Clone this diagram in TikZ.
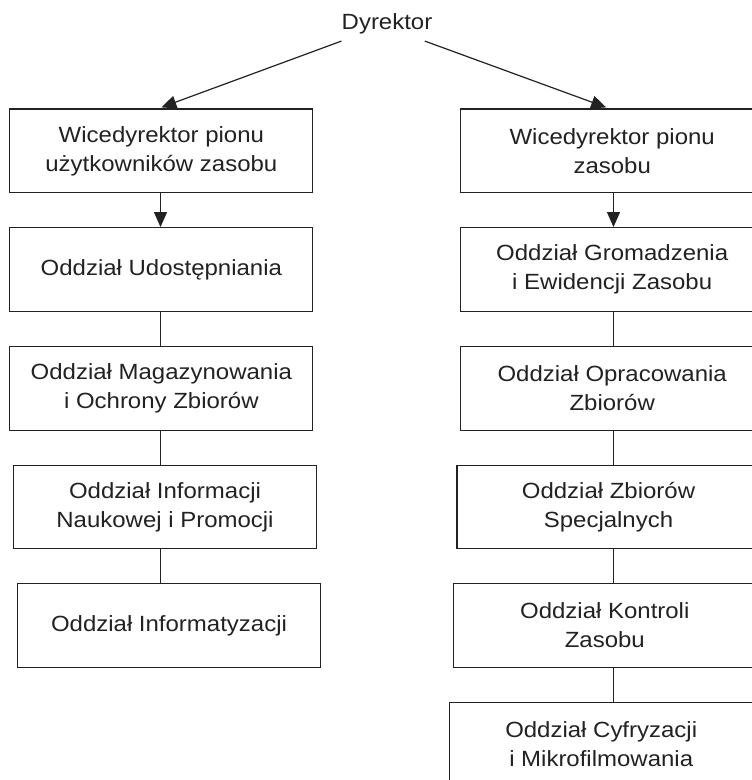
\documentclass[tikz,border=0pt]{standalone}
\usepackage{fontspec}
\setmainfont{Liberation Sans}[FakeStretch=1.09]
\usetikzlibrary{arrows.meta}
\definecolor{ink}{HTML}{222222}
\begin{document}
\begin{tikzpicture}[x=1pt,y=-1pt,
  txt/.style={text=ink, font=\fontsize{22}{29}\selectfont},
  box/.style={txt, draw=ink, line width=1.2pt, minimum width=303pt, minimum height=83.7pt, inner sep=0pt, align=center},
  link/.style={draw=ink, line width=1.2pt},
  arr/.style={link, -{Triangle[length=15pt,width=13pt]}}]
\useasboundingbox (0,0) rectangle (752,780);
\fill[white] (0,0) rectangle (752,780);
\clip (0,0) rectangle (752,780);

\node[txt, inner sep=0pt, anchor=base] (dyr) at (387,29.3) {Dyrektor};

\node[box] (L1) at (161.35,150.85) {Wicedyrektor pionu\\użytkowników zasobu};
\node[box] (L2) at (161.35,269.5) {Oddział Udostępniania};
\node[box] (L3) at (161.35,388.5) {Oddział Magazynowania\\i Ochrony Zbiorów};
\node[box] (L4) at (165,507) {Oddział Informacji\\Naukowej i Promocji};
\node[box] (L5) at (169,625.5) {Oddział Informatyzacji};

\node[box] (R1) at (612.2,150.85) {Wicedyrektor pionu\\zasobu};
\node[box] (R2) at (612.2,269.5) {Oddział Gromadzenia\\i Ewidencji Zasobu};
\node[box] (R3) at (612.2,388.4) {Oddział Opracowania\\Zbiorów};
\node[box] (R4) at (608.5,507) {Oddział Zbiorów\\Specjalnych};
\node[box] (R5) at (604.8,625.5) {Oddział Kontroli\\Zasobu};
\node[box] (R6) at (601.2,744) {Oddział Cyfryzacji\\i Mikrofilmowania};

\coordinate (lc) at (160.5,0);
\coordinate (rc) at (613.5,0);

\draw[arr] ([shift={(0,7)}]dyr.south west) -- ([shift={(0,-1)}]L1.north);
\draw[arr] ([shift={(-7.7,7)}]dyr.south east) -- ([shift={(-6,-1)}]R1.north);

\draw[arr] (lc |- L1.south) -- (lc |- L2.north);
\draw[link] (lc |- L2.south) -- (lc |- L3.north);
\draw[link] (lc |- L3.south) -- (lc |- L4.north);
\draw[link] (lc |- L4.south) -- (lc |- L5.north);

\draw[arr] (rc |- R1.south) -- (rc |- R2.north);
\draw[link] (rc |- R2.south) -- (rc |- R3.north);
\draw[link] (rc |- R3.south) -- (rc |- R4.north);
\draw[link] (rc |- R4.south) -- (rc |- R5.north);
\draw[link] (rc |- R5.south) -- (rc |- R6.north);
\end{tikzpicture}
\end{document}
